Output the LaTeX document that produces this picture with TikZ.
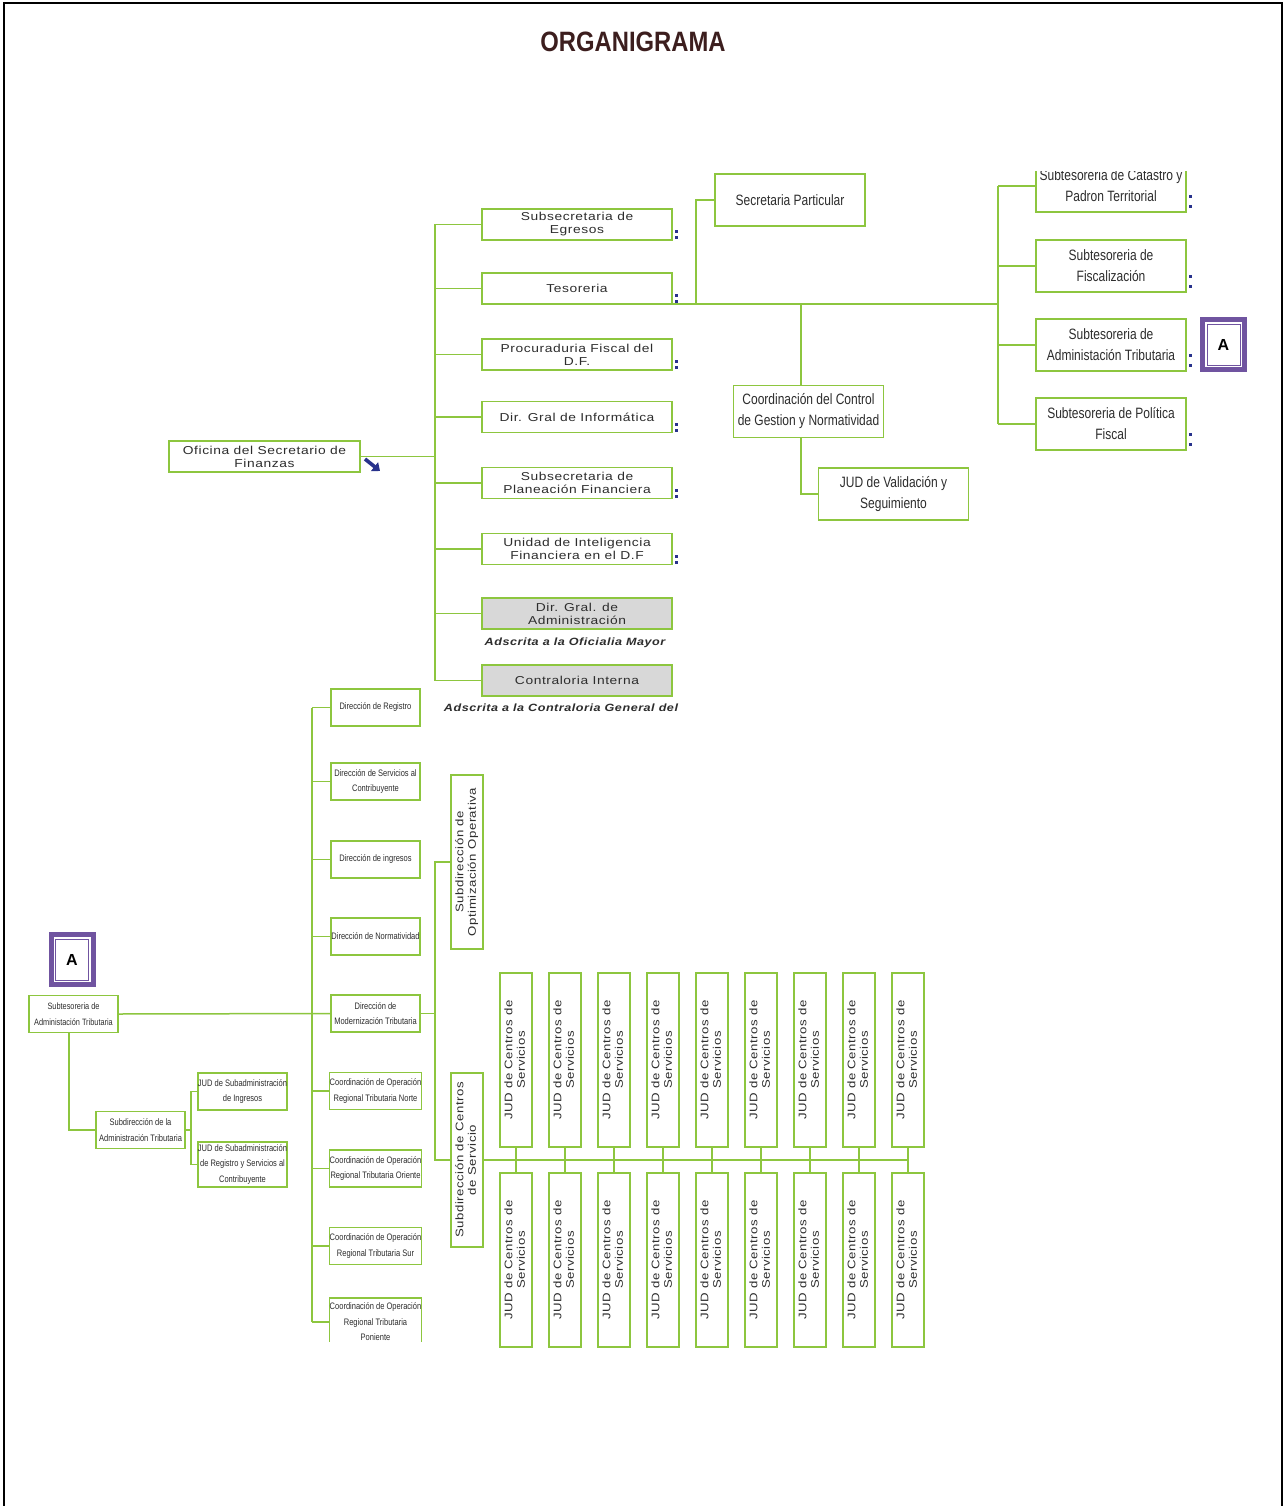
\documentclass[tikz,border=0pt]{standalone}
\usepackage{fontspec}
\usepackage{graphicx}
\setmainfont{Liberation Sans}
\newfontfamily\widefont[FakeStretch=1.2,LetterSpace=5]{Liberation Sans}
\newfontfamily\narrowfont[FakeStretch=0.8]{Liberation Sans}
\newfontfamily\titlefont[FakeStretch=0.85]{Liberation Sans}
\usetikzlibrary{arrows.meta}

\definecolor{orggreen}{RGB}{141,198,63}
\definecolor{orgpurple}{RGB}{112,84,160}
\definecolor{orgnavy}{RGB}{40,50,140}
\definecolor{orgtext}{RGB}{45,45,45}
\definecolor{orggray}{RGB}{216,216,216}
\definecolor{titlebrown}{RGB}{60,30,30}

% two-line label turned to read upwards
\newcommand\vlabel[1]{\rotatebox{90}{\begin{tabular}{@{}c@{}}#1\end{tabular}}}

\begin{document}
\begin{tikzpicture}[x=1pt,y=-1pt,
  every node/.style={inner sep=0pt, outer sep=0pt},
  basebox/.style={draw=orggreen, line width=1.8pt, fill=white, text=orgtext},
  orgbox/.style={basebox, align=center},
  wbox/.style={orgbox, minimum width=190pt, minimum height=31pt,
    font=\widefont\fontsize{11.5}{13}\selectfont},
  graybox/.style={wbox, fill=orggray},
  nbox/.style={orgbox, minimum width=150pt, minimum height=52pt,
    font=\narrowfont\fontsize{15}{21}\selectfont},
  sbox/.style={orgbox, line width=1.5pt, minimum width=89pt, minimum height=37pt,
    font=\narrowfont\fontsize{9.4}{15.5}\selectfont},
  vbox/.style={basebox, line width=1.5pt, minimum width=32pt, minimum height=174pt,
    font=\widefont\fontsize{11}{12.5}\selectfont},
  note/.style={text=orgtext, font=\widefont\bfseries\itshape\fontsize{10.5}{12}\selectfont},
  abox/.style={draw=orgpurple, line width=5pt, fill=white, minimum width=42pt,
    minimum height=50pt, font=\bfseries\fontsize{16}{18}\selectfont},
  conn/.style={draw=orggreen, line width=1.8pt},
  lconn/.style={draw=orggreen, line width=1.5pt},
  cornermark/.style={fill=orgnavy}
]
\useasboundingbox (0,0) rectangle (1286,1506);
\fill[white] (0,0) rectangle (1286,1506);
\draw[line width=1.6pt] (4,1512) -- (4,3) -- (1282,3) -- (1282,1512);

\node[font=\titlefont\bfseries\fontsize{28}{30}\selectfont, text=titlebrown] (title) at (633,42) {ORGANIGRAMA};

\begin{scope}
\clip (0,172) rectangle (1286,1506);

% trunk positions
\coordinate (tx) at (435,0);
\coordinate (spx) at (696,0);
\coordinate (cv) at (801,0);
\coordinate (rx) at (998,0);
\coordinate (lx) at (312,0);
\coordinate (mx) at (435,0);
\coordinate (llx) at (69,0);
\coordinate (jx) at (191,0);

% ---------- upper chart ----------
\node[wbox, minimum width=191pt] (ofi) at (264.5,456.5) {Oficina del Secretario de\\Finanzas};

\node[wbox] (egr)  at (577,224.5) {Subsecretaria de\\Egresos};
\node[wbox] (tes)  at (577,288.5) {Tesoreria};
\node[wbox] (proc) at (577,354.5) {Procuraduria Fiscal del\\D.F.};
\node[wbox] (info) at (577,417)   {Dir. Gral de Informática};
\node[wbox] (plan) at (577,483)   {Subsecretaria de\\Planeación Financiera};
\node[wbox] (uif)  at (577,549)   {Unidad de Inteligencia\\Financiera en el D.F};
\node[graybox] (dga)  at (577,613.5) {Dir. Gral. de\\Administración};
\node[graybox] (cont) at (577,680.5) {Contraloria Interna};
\node[note] (n1) at (575,643) {Adscrita a la Oficialia Mayor};
\node[note] (n2) at (561,708) {Adscrita a la Contraloria General del};

\node[nbox] (sp)  at (790,200)    {Secretaria Particular};
\node[nbox] (ccg) at (808.5,411.5) {Coordinación del Control\\de Gestion y Normatividad};
\node[nbox] (jv)  at (893.5,494)   {JUD de Validación y\\Seguimiento};

\node[nbox] (stc) at (1111,186) {Subtesoreria de Catastro y\\Padron Territorial};
\node[nbox] (sf)  at (1111,266) {Subtesoreria de\\Fiscalización};
\node[nbox] (sat) at (1111,345) {Subtesoreria de\\Administación Tributaria};
\node[nbox] (spf) at (1111,424) {Subtesoreria de Política\\Fiscal};

\node[abox] (a1) at (1223.5,344.5) {A};
\draw[orgpurple, line width=1pt] ([shift={(4.5,4.5)}]a1.north west) rectangle ([shift={(-4.5,-4.5)}]a1.south east);

% connectors of the upper chart
\draw[conn] (ofi.east) -- (ofi.east -| tx);
\draw[conn] (egr.west -| tx) -- (cont.west -| tx);
\foreach \n in {egr,tes,proc,info,plan,uif,dga,cont}
  \draw[conn] (\n.west) -- (\n.west -| tx);
\draw[conn] (tes.south east) -- (tes.south east -| rx);
\draw[conn] (sp.west) -| (tes.south east -| spx);
\draw[conn] (tes.south east -| cv) -- (ccg.north -| cv);
\draw[conn] (ccg.south -| cv) |- (jv.west);
\draw[conn] (stc.west -| rx) -- (spf.west -| rx);
\foreach \n in {stc,sf,sat,spf}
  \draw[conn] (\n.west) -- (\n.west -| rx);

% arrow beside the head office
\draw[orgnavy, line width=3.6pt, -{Triangle[length=7pt,width=11pt]}]
  ([shift={(5,-13)}]ofi.south east) -- ([shift={(20,-1)}]ofi.south east);

% small markers at the box corners
\foreach \n in {egr,tes,proc,info,plan,uif} {
  \fill[cornermark] ([shift={(3,-10)}]\n.south east) rectangle ++(3,3);
  \fill[cornermark] ([shift={(3,-4)}]\n.south east) rectangle ++(3,3);
}
\foreach \n in {stc,sf,sat,spf} {
  \fill[cornermark] ([shift={(3,-17)}]\n.south east) rectangle ++(2.5,3);
  \fill[cornermark] ([shift={(3,-7)}]\n.south east) rectangle ++(2.5,3);
}

% ---------- lower chart ----------
\node[abox] (a2) at (72,959.5) {A};
\draw[orgpurple, line width=1pt] ([shift={(4.5,4.5)}]a2.north west) rectangle ([shift={(-4.5,-4.5)}]a2.south east);

\node[sbox, font=\narrowfont\fontsize{9.2}{15.5}\selectfont] (sat2) at (73.5,1014) {Subtesoreria de\\Administación Tributaria};
\node[sbox] (sad) at (140.5,1130) {Subdirección de la\\Administración Tributaria};
\node[sbox] (jsi) at (242.5,1091.5) {JUD de Subadministración\\de Ingresos};
\node[sbox, minimum height=45pt] (jrs) at (242.5,1164.5) {JUD de Subadministración\\de Registro y Servicios al\\Contribuyente};

\node[sbox] (dr)  at (375.5,707.5)  {Dirección de Registro};
\node[sbox] (dsc) at (375.5,781.5)  {Dirección de Servicios al\\Contribuyente};
\node[sbox] (di)  at (375.5,859.5)  {Dirección de ingresos};
\node[sbox] (dn)  at (375.5,936.5)  {Dirección de Normatividad};
\node[sbox] (dm)  at (375.5,1013.5) {Dirección de\\Modernización Tributaria};
\node[sbox] (con) at (375.5,1091)   {Coordinación de Operación\\Regional Tributaria Norte};
\node[sbox] (coo) at (375.5,1168.5) {Coordinación de Operación\\Regional Tributaria Oriente};
\node[sbox] (cos) at (375.5,1246)   {Coordinación de Operación\\Regional Tributaria Sur};
\begin{scope}
\clip (0,0) rectangle (1286,1341);
\node[sbox, minimum height=48pt] (cop) at (375.5,1322) {Coordinación de Operación\\Regional Tributaria\\Poniente};
\end{scope}

\node[vbox] (so) at (467,862)  {\vlabel{Subdirección de\\Optimización Operativa}};
\node[vbox] (sc) at (467,1160) {\vlabel{Subdirección de Centros\\de Servicio}};

\foreach \i in {0,...,8} {
  \node[vbox] (t\i) at ({516+49*\i},1060) {\vlabel{JUD de Centros de\\Servicios}};
  \node[vbox] (b\i) at ({516+49*\i},1260) {\vlabel{JUD de Centros de\\Servicios}};
}

% connectors of the lower chart
\draw[lconn] (sat2.east) -- (dm.west);
\draw[lconn] (dr.west -| lx) -- (cop.west -| lx);
\foreach \n in {dr,dsc,di,dn,dm,con,coo,cos,cop}
  \draw[lconn] (\n.west) -- (\n.west -| lx);
\draw[lconn] (dm.east) -- (dm.east -| mx);
\draw[lconn] (so.west) -- (so.west -| mx) -- (sc.west -| mx) -- (sc.west);
\draw[lconn] (sat2.south -| llx) |- (sad.west);
\draw[lconn] (sad.east) -- (sad.east -| jx);
\draw[lconn] (jsi.west) -- (jsi.west -| jx) -- (jrs.west -| jx) -- (jrs.west);
\draw[lconn] (sc.east) -- (sc.east -| t8.south);
\foreach \i in {0,...,8}
  \draw[lconn] (t\i.south) -- (b\i.north);
\end{scope}
\end{tikzpicture}
\end{document}
